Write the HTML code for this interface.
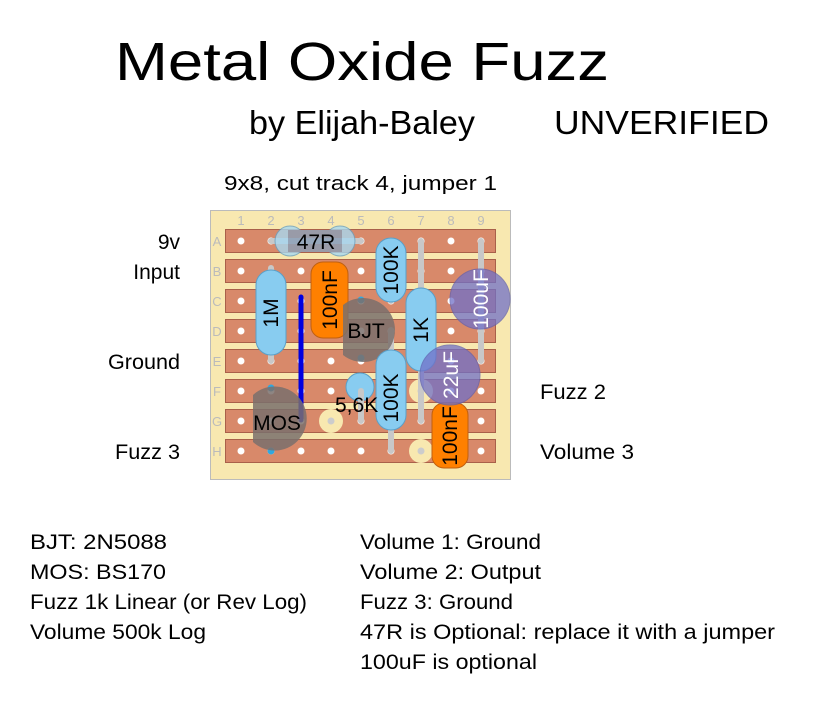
<!DOCTYPE html>
<html><head><meta charset="utf-8"><style>
html,body{margin:0;padding:0;background:#fff;}
svg{display:block;}
text{font-family:"Liberation Sans Narrow","Liberation Sans",sans-serif;}
</style></head><body>
<svg width="825" height="706" viewBox="0 0 825 706" xmlns="http://www.w3.org/2000/svg">
<text x="115" y="80" font-size="54" textLength="494" lengthAdjust="spacingAndGlyphs">Metal Oxide Fuzz</text>
<text x="249" y="134" font-size="33" textLength="226" lengthAdjust="spacingAndGlyphs">by Elijah-Baley</text>
<text x="554" y="134" font-size="33" textLength="215" lengthAdjust="spacingAndGlyphs">UNVERIFIED</text>
<text x="224" y="190" font-size="20" textLength="273" lengthAdjust="spacingAndGlyphs">9x8, cut track 4, jumper 1</text>

<g font-size="21" text-anchor="end">
<text x="180" y="249">9v</text>
<text x="180" y="279">Input</text>
<text x="180" y="369" textLength="72" lengthAdjust="spacingAndGlyphs">Ground</text>
<text x="180" y="459" textLength="65" lengthAdjust="spacingAndGlyphs">Fuzz 3</text>
</g>
<g font-size="21">
<text x="540" y="399" textLength="66" lengthAdjust="spacingAndGlyphs">Fuzz 2</text>
<text x="540" y="459" textLength="94" lengthAdjust="spacingAndGlyphs">Volume 3</text>
</g>

<rect x="210.5" y="210.5" width="300" height="269" fill="#f8e8b0" stroke="#bbb"/>
<g fill="#bbb" font-size="13" text-anchor="middle">
<text x="241" y="225">1</text><text x="271" y="225">2</text><text x="301" y="225">3</text><text x="331" y="225">4</text><text x="361" y="225">5</text><text x="391" y="225">6</text><text x="421" y="225">7</text><text x="451" y="225">8</text><text x="481" y="225">9</text>
<text x="217" y="246">A</text><text x="217" y="276">B</text><text x="217" y="306">C</text><text x="217" y="336">D</text><text x="217" y="366">E</text><text x="217" y="396">F</text><text x="217" y="426">G</text><text x="217" y="456">H</text>
</g>
<g fill="#d8896a" stroke="#a9604a" stroke-width="1">
<rect x="225.5" y="229.5" width="270" height="23"/>
<rect x="225.5" y="259.5" width="270" height="23"/>
<rect x="225.5" y="289.5" width="270" height="23"/>
<rect x="225.5" y="319.5" width="270" height="23"/>
<rect x="225.5" y="349.5" width="270" height="23"/>
<rect x="225.5" y="379.5" width="270" height="23"/>
<rect x="225.5" y="409.5" width="270" height="23"/>
<rect x="225.5" y="439.5" width="270" height="23"/>
</g>
<g fill="#fff">
<g id="r"><circle cx="241" cy="0" r="3.5"/><circle cx="271" cy="0" r="3.5"/><circle cx="301" cy="0" r="3.5"/><circle cx="331" cy="0" r="3.5"/><circle cx="361" cy="0" r="3.5"/><circle cx="391" cy="0" r="3.5"/><circle cx="421" cy="0" r="3.5"/><circle cx="451" cy="0" r="3.5"/><circle cx="481" cy="0" r="3.5"/></g>
<use href="#r" y="241"/><use href="#r" y="271"/><use href="#r" y="301"/><use href="#r" y="331"/><use href="#r" y="361"/><use href="#r" y="391"/><use href="#r" y="421"/><use href="#r" y="451"/>
</g>
<g fill="#f8e8b0"><circle cx="331" cy="421" r="12"/><circle cx="421" cy="391" r="12"/><circle cx="421" cy="451" r="12"/></g>
<g fill="#ccc"><circle cx="331" cy="421" r="3.5"/><circle cx="421" cy="391" r="3.5"/><circle cx="421" cy="451" r="3.5"/></g>

<g stroke="#c8c8c8" stroke-width="6" stroke-linecap="round">
<line x1="421" y1="241" x2="421" y2="421"/>
<line x1="481" y1="241" x2="481" y2="361"/>
<line x1="391" y1="330" x2="391" y2="451"/>
<line x1="391" y1="241" x2="391" y2="301"/>
<line x1="271" y1="268" x2="271" y2="361"/>
<line x1="271" y1="241" x2="361" y2="241"/>
</g>

<!-- 47R -->
<g opacity="0.8">
<circle cx="290" cy="241" r="15" fill="#a8d8f0" stroke="#6aa0c0"/>
<circle cx="340" cy="241" r="15" fill="#a8d8f0" stroke="#6aa0c0"/>
<rect x="288" y="230" width="54" height="22" fill="#8aa0b8"/>
</g>
<text x="316" y="249" font-size="21" text-anchor="middle">47R</text>

<!-- 100K top -->
<path d="M391 238 a15 15 0 0 1 15 15 v34 a15 15 0 0 1 -30 0 v-34 a15 15 0 0 1 15 -15z" fill="#88ccf0" stroke="#5a9fc8"/>
<text transform="translate(398,270) rotate(-90)" font-size="21" text-anchor="middle">100K</text>

<!-- 1M -->
<path d="M271 270 a15 15 0 0 1 15 15 v55 a15 15 0 0 1 -30 0 v-55 a15 15 0 0 1 15 -15z" fill="#88ccf0" stroke="#5a9fc8"/>
<text transform="translate(278,313) rotate(-90)" font-size="21" text-anchor="middle">1M</text>

<!-- 100nF -->
<rect x="311" y="262" width="37" height="76" rx="12" fill="#ff8000" stroke="#c06010"/>
<text transform="translate(337,300) rotate(-90)" font-size="21" text-anchor="middle">100nF</text>

<!-- BJT -->
<circle cx="361" cy="300" r="3.5" fill="#30a8e0"/><circle cx="361" cy="358" r="3.5" fill="#30a8e0"/>
<path d="M343 305 A32 32 0 1 1 343 355 Z" fill="#7a706c" opacity="0.85"/>
<text x="366" y="338" font-size="21" text-anchor="middle">BJT</text>

<line x1="301" y1="297" x2="301" y2="420" stroke="#0000e0" stroke-width="5" stroke-linecap="round"/>

<!-- 1K -->
<path d="M421 288 a15 15 0 0 1 15 15 v53 a15 15 0 0 1 -30 0 v-53 a15 15 0 0 1 15 -15z" fill="#88ccf0" stroke="#5a9fc8"/>
<text transform="translate(428,330) rotate(-90)" font-size="21" text-anchor="middle">1K</text>

<!-- 100K lower -->
<path d="M391 350 a15 15 0 0 1 15 15 v50 a15 15 0 0 1 -30 0 v-50 a15 15 0 0 1 15 -15z" fill="#88ccf0" stroke="#5a9fc8"/>
<text transform="translate(398,398) rotate(-90)" font-size="21" text-anchor="middle">100K</text>

<!-- 5,6K -->
<circle cx="360" cy="387" r="14" fill="#88ccf0" stroke="#5a9fc8"/>
<line x1="361" y1="391" x2="361" y2="421" stroke="#c8c8c8" stroke-width="6" stroke-linecap="round"/>
<text x="335" y="412" font-size="21">5,6K</text>

<circle cx="480" cy="299" r="30" fill="#7070c8" opacity="0.75" stroke="#6060b0"/>
<text transform="translate(488,299) rotate(-90)" font-size="21" fill="#fff" text-anchor="middle">100uF</text>

<rect x="432" y="403" width="36" height="65" rx="12" fill="#ff8000" stroke="#c06010"/>
<text transform="translate(457,436) rotate(-90)" font-size="21" text-anchor="middle">100nF</text>

<circle cx="450" cy="375" r="30" fill="#7070c8" opacity="0.75" stroke="#6060b0"/>
<text transform="translate(458,375) rotate(-90)" font-size="21" fill="#fff" text-anchor="middle">22uF</text>

<circle cx="271" cy="388" r="3.5" fill="#30a8e0"/><circle cx="271" cy="451" r="3.5" fill="#30a8e0"/>
<path d="M253 395 A32 32 0 1 1 253 442 Z" fill="#7a706c" opacity="0.85"/>
<text x="277" y="430" font-size="21" text-anchor="middle">MOS</text>

<g font-size="21" lengthAdjust="spacingAndGlyphs">
<text x="30" y="549" textLength="137" lengthAdjust="spacingAndGlyphs">BJT: 2N5088</text>
<text x="30" y="579" textLength="136" lengthAdjust="spacingAndGlyphs">MOS: BS170</text>
<text x="30" y="609" textLength="277" lengthAdjust="spacingAndGlyphs">Fuzz 1k Linear (or Rev Log)</text>
<text x="30" y="639" textLength="176" lengthAdjust="spacingAndGlyphs">Volume 500k Log</text>
<text x="360" y="549" textLength="181" lengthAdjust="spacingAndGlyphs">Volume 1: Ground</text>
<text x="360" y="579" textLength="181" lengthAdjust="spacingAndGlyphs">Volume 2: Output</text>
<text x="360" y="609" textLength="153" lengthAdjust="spacingAndGlyphs">Fuzz 3: Ground</text>
<text x="360" y="639" textLength="415" lengthAdjust="spacingAndGlyphs">47R is Optional: replace it with a jumper</text>
<text x="360" y="669" textLength="177" lengthAdjust="spacingAndGlyphs">100uF is optional</text>
</g>
</svg>
</body></html>
